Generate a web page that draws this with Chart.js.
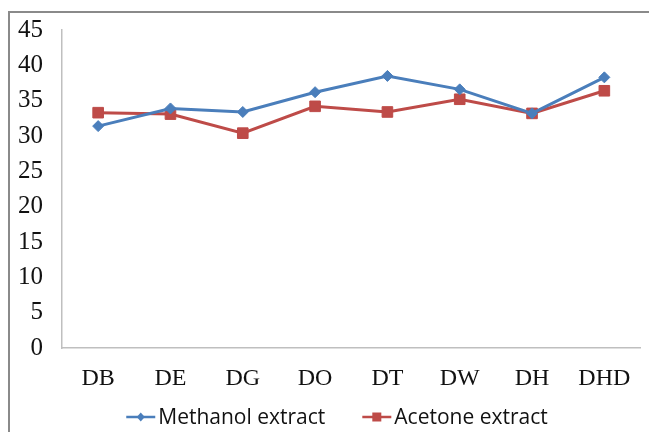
<!DOCTYPE html>
<html>
<head>
<meta charset="utf-8">
<script src="https://cdn.jsdelivr.net/npm/chart.js@4/dist/chart.umd.min.js"></script>
<style>
  body { margin: 0; background: #fff; }
  #wrap { position: relative; width: 649px; height: 432px; overflow: hidden; }
  #frame { position: absolute; left: 8px; top: 11px; width: 700px; height: 500px;
           border-top: 2px solid #8a8a8a; border-left: 2px solid #8a8a8a; }
  canvas { position: absolute; left: 0; top: 0; }
</style>
</head>
<body>
<div id="wrap">
  <div id="frame"></div>
  <canvas id="extractChart" width="649" height="432"></canvas>
</div>
<script>
const categories = ["DB", "DE", "DG", "DO", "DT", "DW", "DH", "DHD"];
const methanol = [31.4, 33.9, 33.4, 36.2, 38.5, 36.6, 33.2, 38.3];
const acetone = [33.3, 33.1, 30.4, 34.2, 33.4, 35.2, 33.2, 36.4];
const yTicks = [0, 5, 10, 15, 20, 25, 30, 35, 40, 45];

const blue = '#4a7ebb';
const red = '#be4b48';

// draws legend entries as "line + marker + text", like the office-style legend
const lineLegend = {
    id: 'lineLegend',
    afterDraw(chart) {
        const ctx = chart.ctx;
        const lineW = 29, gapText = 3, gapItem = 37, y = 417;
        ctx.save();
        ctx.font = '21px "Open Sans"';
        ctx.textBaseline = 'middle';
        const items = chart.data.datasets.map(ds => ({ ds, w: ctx.measureText(ds.label).width }));
        let total = 0;
        items.forEach((it, i) => { total += lineW + gapText + it.w + (i ? gapItem : 0); });
        let x = 337 - total / 2;
        items.forEach(it => {
            const c = it.ds.borderColor;
            ctx.strokeStyle = c;
            ctx.lineWidth = 2.5;
            ctx.beginPath();
            ctx.moveTo(x, y);
            ctx.lineTo(x + lineW, y);
            ctx.stroke();
            const mx = x + lineW / 2;
            ctx.fillStyle = c;
            ctx.beginPath();
            if (it.ds.pointStyle === 'rectRot') {
                ctx.moveTo(mx, y - 4.5); ctx.lineTo(mx + 4, y);
                ctx.lineTo(mx, y + 4.5); ctx.lineTo(mx - 4, y);
                ctx.closePath();
            } else {
                ctx.rect(mx - 4.5, y - 4.5, 9, 9);
            }
            ctx.fill();
            ctx.fillStyle = '#111';
            ctx.fillText(it.ds.label, x + lineW + gapText, y + 1);
            x += lineW + gapText + it.w + gapItem;
        });
        ctx.restore();
    }
};

const ctx = document.getElementById('extractChart').getContext('2d');
const extractChart = new Chart(ctx, {
    type: 'line',
    data: {
        labels: categories,
        datasets: [{
            label: 'Methanol extract',
            data: methanol,
            borderColor: blue,
            backgroundColor: blue,
            borderWidth: 3,
            pointStyle: 'rectRot',
            pointRadius: 5.5,
            pointBorderWidth: 1,
            tension: 0
        }, {
            label: 'Acetone extract',
            data: acetone,
            borderColor: red,
            backgroundColor: red,
            borderWidth: 3,
            pointStyle: 'rect',
            pointRadius: 7.5,
            pointBorderWidth: 1,
            tension: 0
        }]
    },
    options: {
        responsive: false,
        animation: false,
        devicePixelRatio: 1,
        layout: { padding: { left: 0, right: 6, top: 30, bottom: 30 } },
        plugins: {
            legend: { display: false },
            tooltip: { enabled: false }
        },
        scales: {
            x: {
                offset: true,
                grid: { display: false },
                border: { display: true, color: '#bfbfbf', width: 1.5 },
                ticks: {
                    color: '#111',
                    padding: 8,
                    font: { family: '"Liberation Serif"', size: 24 }
                },
                afterFit(scale) { scale.height = 54; }
            },
            y: {
                min: 0,
                max: 45,
                grid: { display: false },
                border: { display: true, color: '#bfbfbf', width: 1.5 },
                afterBuildTicks(scale) { scale.ticks = yTicks.map(v => ({ value: v })); },
                ticks: {
                    color: '#111',
                    padding: 11,
                    font: { family: '"Liberation Serif"', size: 25 }
                },
                afterFit(scale) { scale.width = 62; }
            }
        }
    },
    plugins: [lineLegend]
});
</script>
</body>
</html>
